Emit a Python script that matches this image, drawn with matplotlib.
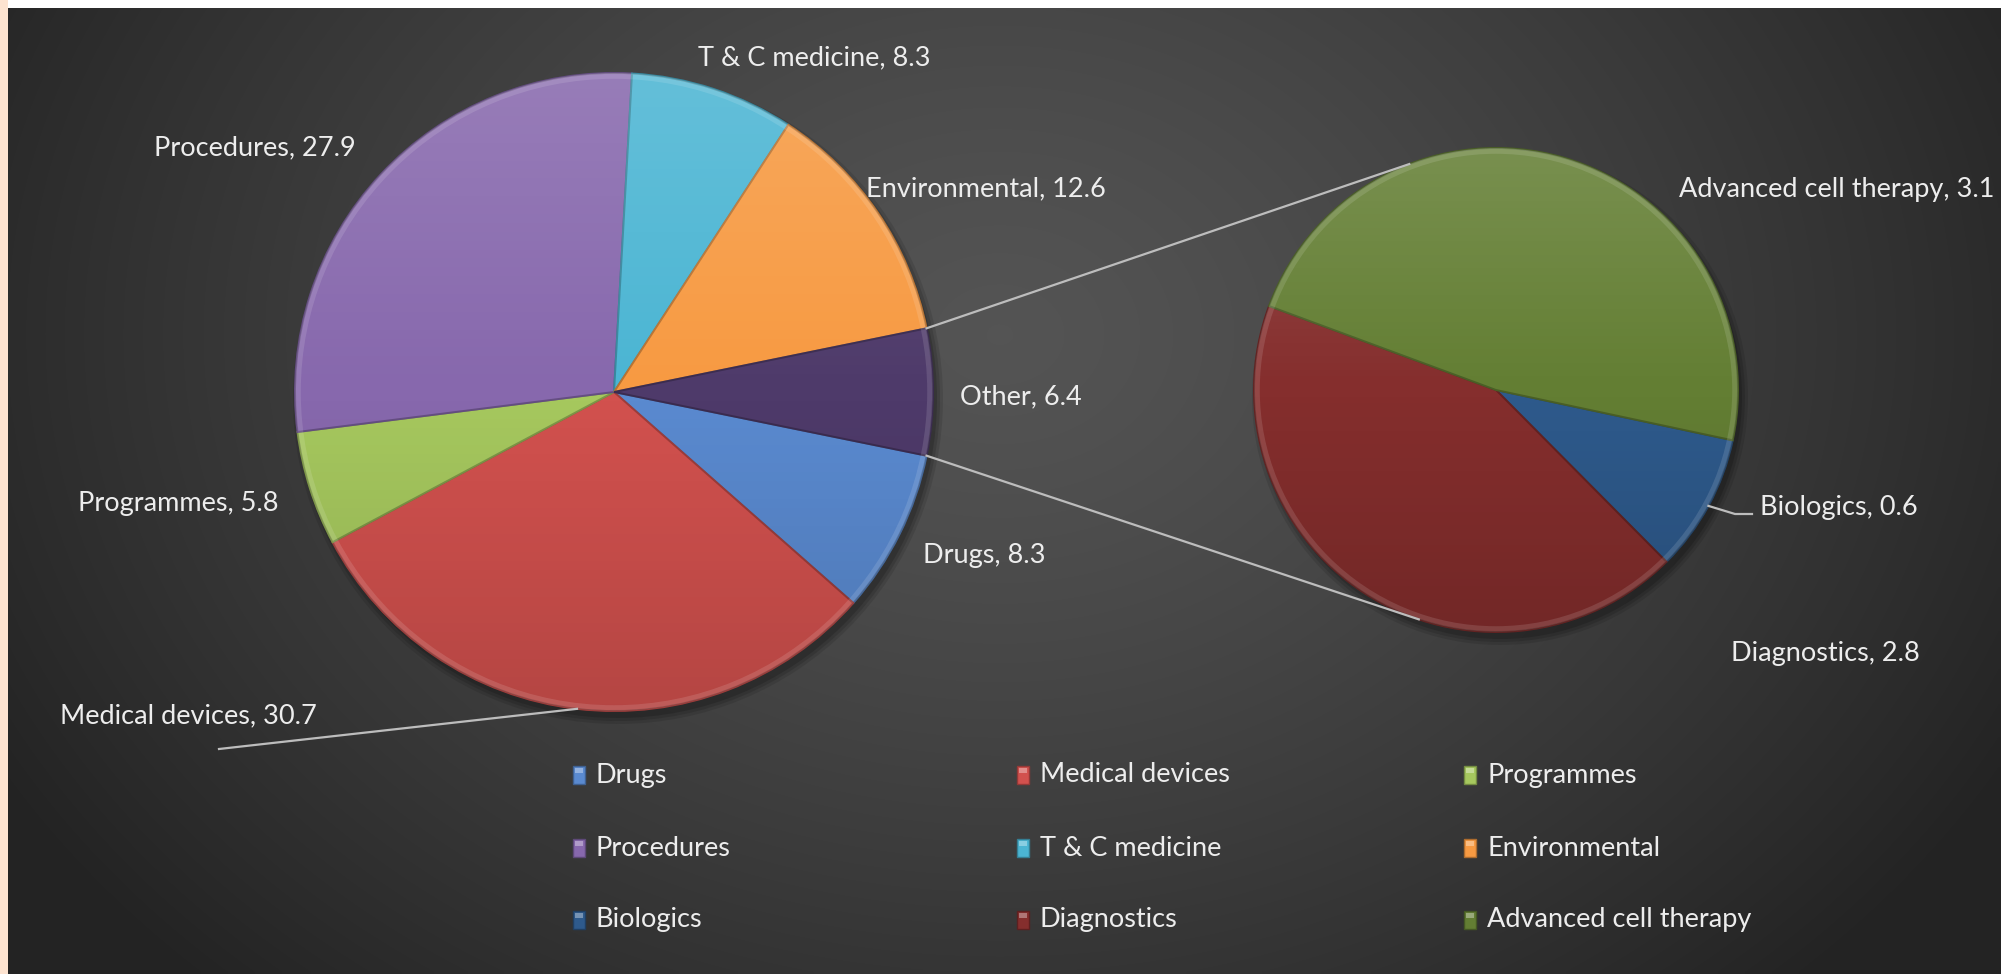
import numpy as np
import matplotlib.pyplot as plt
from matplotlib.patches import Rectangle, Circle
import matplotlib.colors as mcolors

plt.rcParams['font.family'] = ['Lato', 'DejaVu Sans']

W, H = 2001, 974

# main pie (Excel pie-of-pie, "Other" is the split-off group)
main_labels = ['Drugs', 'Medical devices', 'Programmes', 'Procedures',
               'T & C medicine', 'Environmental', 'Other']
main_values = [8.3, 30.7, 5.8, 27.9, 8.3, 12.6, 6.4]
main_colors = ['#5a8ad0', '#d2514e', '#a6c85e', '#8768ad',
               '#4bb5d3', '#f79a42', '#4e3a6a']

# secondary pie
sub_labels = ['Biologics', 'Diagnostics', 'Advanced cell therapy']
sub_values = [0.6, 2.8, 3.1]
sub_colors = ['#2e5a8c', '#852e2d', '#637e33']

# layout (pixel coords, y from top of image)
main_c, main_r = (614, 392), 319
sub_c, sub_r = (1496, 390), 242
main_lab_pos = [(984, 556), (188, 716), (178, 504), (255, 148),
                (814, 58), (986, 189), (1021, 397)]
sub_lab_pos = [(1760, 508), (1825, 654), (1837, 189)]
txt_col = '#ededed'
fs = 19.5


def yy(y):
    return H - y


def lighten(c, f):
    c = np.array(mcolors.to_rgb(c))
    return tuple(c + (1 - c) * f)


def darken(c, f):
    c = np.array(mcolors.to_rgb(c))
    return tuple(c * (1 - f))


fig = plt.figure(figsize=(W / 100, H / 100), dpi=100)
ax = fig.add_axes([0, 0, 1, 1])

# background radial gradient
gx, gy = np.meshgrid(np.linspace(0, W, 400), np.linspace(0, H, 200))
d = np.sqrt(((gx - 1000) / 1150) ** 2 + ((gy - 640) / 900) ** 2)
v = np.clip(0.33 - 0.19 * d ** 1.3, 0.14, 0.35)
bg = np.dstack([v, v, v])
ax.imshow(bg, extent=(0, W, H, 0), aspect='auto', zorder=0, interpolation='bilinear')


def draw_pie(vals, cols, center, r, start):
    cx, cy = center[0], yy(center[1])
    # soft shadow
    for k, a in enumerate([0.10, 0.12, 0.15]):
        ax.add_patch(Circle((cx + 4, cy - 7), r + 6 - 3 * k, color='black',
                            alpha=a, zorder=1, lw=0))
    wedges, _ = ax.pie(vals, colors=cols, startangle=start, counterclock=False,
                       center=(cx, cy), radius=r, normalize=True,
                       wedgeprops=dict(linewidth=1.4))
    for w, c in zip(wedges, cols):
        w.set_edgecolor(darken(c, 0.25))
        w.set_zorder(2)
    # vertical lighting overlay
    n = 256
    t = np.linspace(0, 1, n)[:, None]
    ov = np.zeros((n, 2, 4))
    ov[..., :3] = np.where(t < 0.5, 1.0, 0.0)[..., None]
    ov[..., 3] = np.abs(t - 0.5) * 0.28
    im = ax.imshow(ov, extent=(cx - r, cx + r, cy - r, cy + r), aspect='auto',
                   zorder=3, interpolation='bilinear')
    im.set_clip_path(Circle((cx, cy), r, transform=ax.transData))
    # bevel rim highlight
    ax.add_patch(Circle((cx, cy), r - 3, fill=False, edgecolor='white',
                        alpha=0.12, lw=4, zorder=3))
    return wedges


main_start = -main_values[-1] / sum(main_values) * 360 / 2
mw = draw_pie(main_values, main_colors, main_c, main_r, main_start)
sw = draw_pie(sub_values, sub_colors, sub_c, sub_r, -12)

# connector lines between the pies
mcx, mcy = main_c[0], yy(main_c[1])
scx, scy = sub_c[0], yy(sub_c[1])
line_col = '#bdbdbd'
for a_main, a_sub in [(-main_start, 111), (main_start, -108.6)]:
    p0 = (mcx + main_r * np.cos(np.radians(a_main)), mcy + main_r * np.sin(np.radians(a_main)))
    p1 = (scx + sub_r * np.cos(np.radians(a_sub)), scy + sub_r * np.sin(np.radians(a_sub)))
    ax.plot([p0[0], p1[0]], [p0[1], p1[1]], color=line_col, lw=1.6, zorder=4)

# data labels
for lab, val, (x, y) in zip(main_labels, main_values, main_lab_pos):
    ax.text(x, yy(y), f'{lab}, {val}', color=txt_col, fontsize=fs,
            ha='center', va='center', zorder=6)
for i, (lab, val, (x, y)) in enumerate(zip(sub_labels, sub_values, sub_lab_pos)):
    ax.text(x, yy(y), f'{lab}, {val}', color=txt_col, fontsize=fs,
            ha='left' if i == 0 else 'center', va='center', zorder=6)

# leader lines
w = mw[1]
am = np.radians((w.theta1 + w.theta2) / 2)
ax.plot([mcx + main_r * np.cos(am), 219], [mcy + main_r * np.sin(am), yy(749)],
        color=line_col, lw=1.6, zorder=4)
w = sw[0]
ab = np.radians((w.theta1 + w.theta2) / 2)
bx, by = scx + sub_r * np.cos(ab), scy + sub_r * np.sin(ab)
ax.plot([bx, 1735, 1752], [by, yy(514), yy(514)], color=line_col, lw=1.6, zorder=4)

# legend (Excel style, row-major 3x3)
leg_names = main_labels[:6] + sub_labels
leg_cols = main_colors[:6] + sub_colors
col_x = [573, 1017, 1464]
row_y = [775, 848, 920]
for i, (nm, c) in enumerate(zip(leg_names, leg_cols)):
    x, y = col_x[i % 3], row_y[i // 3]
    ax.add_patch(Rectangle((x, yy(y) - 9), 12, 18, facecolor=c,
                           edgecolor=darken(c, 0.3), lw=1, zorder=5))
    ax.add_patch(Rectangle((x + 2, yy(y) + 2), 8, 5, facecolor='white',
                           alpha=0.35, lw=0, zorder=5))
    ax.text(x + 23, yy(y), nm, color=txt_col, fontsize=fs, ha='left',
            va='center', zorder=6)

# frame strips
ax.add_patch(Rectangle((0, H - 8), W, 8, facecolor='white', lw=0, zorder=7))
ax.add_patch(Rectangle((0, 0), 8, H, facecolor='#fde3d0', lw=0, zorder=7))

ax.set_xlim(0, W)
ax.set_ylim(0, H)
ax.set_aspect('auto')
ax.axis('off')

fig.savefig('out.png', dpi=100)
